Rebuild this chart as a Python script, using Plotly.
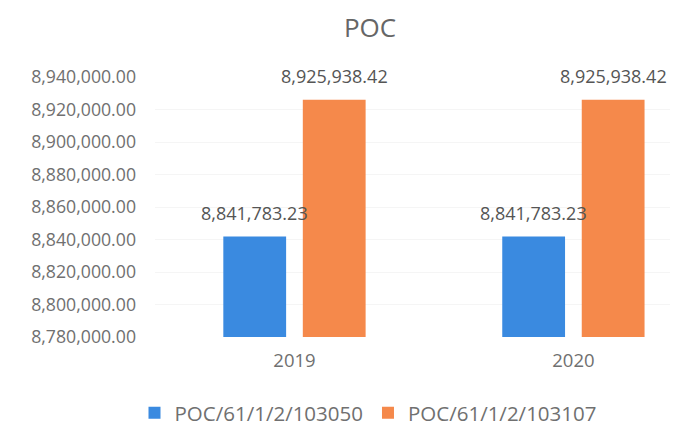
import plotly.graph_objects as go

categories = ["2019", "2020"]
series_names = ["POC/61/1/2/103050", "POC/61/1/2/103107"]
values_a = [8841783.23, 8841783.23]
values_b = [8925938.42, 8925938.42]
y_ticks = [8780000 + 20000 * i for i in range(9)]

colors = ["#3a8ae0", "#f5894b"]
font_family = "Open Sans"
W, H = 670, 420  # page has an 8px body margin

fig = go.Figure()
for name, vals, col in zip(series_names, [values_a, values_b], colors):
    fig.add_trace(go.Bar(x=categories, y=vals, name=name, marker=dict(color=col, line=dict(width=0))))

# data labels
offsets = [-40, 40]
for vals, xs in zip([values_a, values_b], offsets):
    for i, v in enumerate(vals):
        fig.add_annotation(x=i, y=v, xref="x", yref="y", text=f"{v:,.2f}", showarrow=False,
                           xshift=xs, yshift=10, yanchor="bottom",
                           font=dict(family=font_family, size=18, color="#555555"))

fig.update_layout(
    width=W, height=H,
    margin=dict(l=147, r=0, t=69, b=91),
    paper_bgcolor="white", plot_bgcolor="white",
    barmode="group", bargap=0.43, bargroupgap=0.21,
    font=dict(family=font_family, color="#707070", size=18),
    title=dict(text="POC", x=362 / W, xref="container", y=1 - 20 / H, yref="container",
               xanchor="center", yanchor="middle",
               font=dict(family=font_family, size=26, color="#666666")),
    showlegend=True,
    legend=dict(orientation="h", xref="container", yref="container", x=360 / W, y=1 - 405 / H,
                xanchor="center", yanchor="middle", font=dict(family=font_family, size=20.5, color="#707070"),
                itemwidth=30, traceorder="normal"),
    xaxis=dict(type="category", range=[-0.5, 1.375], showgrid=False, showline=False, zeroline=False,
               ticks="", ticklabelstandoff=10, tickfont=dict(size=18.5, color="#707070")),
    yaxis=dict(range=[8780000, 8940000], tickvals=y_ticks, tickformat=",.2f", showgrid=True,
               gridcolor="#f5f5f5", gridwidth=1, zeroline=False, showline=False, ticks="",
               ticklabelstandoff=18, tickfont=dict(size=17.7, color="#707070")),
)

fig.write_html("out.html")
